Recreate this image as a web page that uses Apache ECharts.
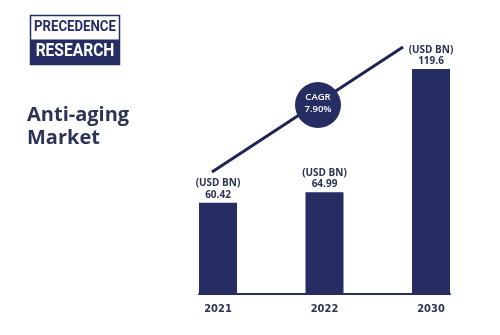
<!DOCTYPE html>
<html>
<head>
<meta charset="utf-8">
<script src="https://cdn.jsdelivr.net/npm/echarts@6/dist/echarts.min.js"></script>
<style>
  html, body { margin: 0; padding: 0; background: #ffffff; }
  #chart { width: 500px; height: 335px; }
</style>
</head>
<body>
<div id="chart"></div>
<script>
// Anti-aging market size, USD billion
const years = ['2021', '2022', '2030'];
const marketSize = [60.42, 64.99, 119.6];
const unitLabel = '(USD BN)';
const cagrText = ['CAGR', '7.90%'];
const titleLines = ['Anti-aging', 'Market'];
const brandLines = ['PRECEDENCE', 'RESEARCH'];

const NAVY = '#252d63';
const INK = '#2c3354';

const chart = echarts.init(document.getElementById('chart'), null, { renderer: 'canvas' });

chart.setOption({
  backgroundColor: '#ffffff',
  animation: false,
  grid: [
    { left: 164.75, right: 15.75, top: 69, bottom: 41 },
    { left: 199, right: 50, top: 69, bottom: 41 }
  ],
  xAxis: [
    {
      type: 'category', gridIndex: 0, data: years,
      axisLine: { show: false }, axisTick: { show: false },
      axisLabel: {
        margin: 10, color: INK, fontSize: 11, fontWeight: 'bold',
        fontFamily: '"DejaVu Sans Condensed", Roboto, sans-serif'
      }
    },
    {
      type: 'category', gridIndex: 1, data: years,
      axisLine: { show: true, lineStyle: { color: NAVY, width: 2 } },
      axisTick: { show: false }, axisLabel: { show: false }
    }
  ],
  yAxis: [
    { type: 'value', gridIndex: 0, min: 20, max: Math.max(...marketSize), show: false },
    { type: 'value', gridIndex: 1, min: 0, max: 1, show: false }
  ],
  series: [{
    type: 'bar',
    xAxisIndex: 0, yAxisIndex: 0,
    data: marketSize,
    barWidth: 38,
    itemStyle: { color: NAVY },
    label: {
      show: true, position: 'top', distance: 2,
      formatter: p => unitLabel + '\n' + p.value,
      color: INK, fontSize: 10, fontWeight: 'bold',
      fontFamily: '"Open Sans", sans-serif', lineHeight: 11.5, align: 'center'
    }
  }],
  graphic: [
    // brand box
    { type: 'rect', shape: { x: 30.5, y: 15.5, width: 89, height: 49 },
      style: { fill: '#ffffff', stroke: NAVY, lineWidth: 1.5 } },
    { type: 'rect', shape: { x: 30.5, y: 39.5, width: 89, height: 25 },
      style: { fill: NAVY } },
    { type: 'text', x: 75, y: 27.5, scaleX: 0.88,
      style: { text: brandLines[0], fill: NAVY,
        font: 'bold 15px Roboto', align: 'center', verticalAlign: 'middle' } },
    { type: 'text', x: 75, y: 51, scaleX: 0.82,
      style: { text: brandLines[1], fill: '#ffffff',
        font: 'bold 19px Roboto', align: 'center', verticalAlign: 'middle' } },
    // title
    { type: 'text', x: 27, y: 115, style: { text: titleLines[0], fill: INK,
      font: 'bold 20px "Open Sans"', verticalAlign: 'middle' } },
    { type: 'text', x: 27, y: 138, style: { text: titleLines[1], fill: INK,
      font: 'bold 20px "Open Sans"', verticalAlign: 'middle' } },
    // growth line
    { type: 'line', shape: { x1: 212, y1: 172, x2: 403, y2: 47 },
      style: { stroke: '#1f2452', lineWidth: 3 } },
    // CAGR badge
    { type: 'circle', shape: { cx: 318, cy: 105, r: 23 }, style: { fill: NAVY } },
    { type: 'text', x: 318, y: 103.5, style: { text: cagrText.join('\n'), fill: '#ffffff',
      font: '600 9.5px "Open Sans"', lineHeight: 12, align: 'center', verticalAlign: 'middle' } }
  ]
});
</script>
</body>
</html>
